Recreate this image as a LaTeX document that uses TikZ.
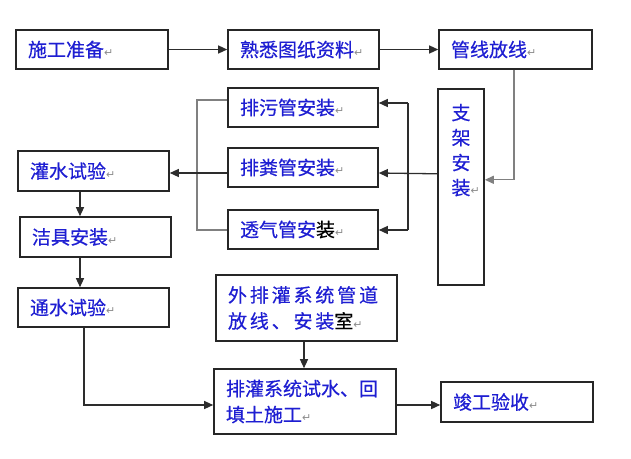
\documentclass[tikz,border=0pt]{standalone}
\usepackage{fontspec}
\usepackage{tikz}
\usetikzlibrary{arrows.meta,positioning,calc}
\usepackage{xcolor}
\newfontfamily\cnfont[FakeBold=0.4]{Noto Sans CJK SC}
\newfontfamily\cnwide[LetterSpace=15,FakeBold=0.4]{Noto Sans CJK SC}
\newfontfamily\markfont{DejaVu Sans}
\definecolor{textblue}{RGB}{30,30,210}
\definecolor{linegray}{RGB}{128,128,128}
\definecolor{darkline}{RGB}{45,45,45}
\newcommand{\pmark}{{\color{black!45}\markfont\fontsize{11}{11}\selectfont ↵}}
\tikzset{
  stepbox/.style={draw=black!85,line width=1.6pt,fill=white,align=left,inner xsep=12pt,inner ysep=0pt,
    minimum height=39pt,text=textblue,font=\cnfont\fontsize{19}{26}\selectfont},
  flow/.style={-{Triangle[length=9pt,width=8pt]},line width=1.3pt,draw=darkline},
  grayflow/.style={flow,draw=linegray},
  link/.style={line width=1.6pt,draw=linegray}
}
\begin{document}
\begin{tikzpicture}[x=1pt,y=-1pt]
  \useasboundingbox (0,0) rectangle (631,458);
  % top row
  \node[stepbox,text width=128pt] (prep) at (92,49.5) {施工准备\pmark};
  \node[stepbox,text width=127pt] (drawing) at (303.5,49.5) {熟悉图纸资料\pmark};
  \node[stepbox,text width=129pt] (layout) at (515.5,49.5) {管线放线\pmark};
  \draw[flow] (prep) -- (drawing);
  \draw[flow] (drawing) -- (layout);
  % supports and pipes
  \node[stepbox,minimum width=46pt,minimum height=196pt,inner xsep=0pt,align=center,anchor=north,
    font=\cnfont\fontsize{19}{25}\selectfont] (support) at (461,88)
    {\raisebox{0pt}[0pt][0pt]{\begin{tabular}[t]{@{}c@{}}\\[-12pt]支\\架\\安\\装\rlap{\pmark}\end{tabular}}\rule[-160pt]{0pt}{0pt}};
  \node[stepbox,text width=126pt] (sewage) at (303,107.5) {排污管安装\pmark};
  \node[stepbox,text width=126pt] (soil) at (303,167.5) {排粪管安装\pmark};
  \node[stepbox,text width=126pt] (vent) at (303,229.5) {透气管安{\color{black}装}\pmark};
  \draw[grayflow] (layout.south -| 514,0) |- ([yshift=7pt]support.east);
  \coordinate (rtop) at (408,103);
  \coordinate (rbot) at (408,230);
  \draw[flow] ([yshift=13pt]support.west) -- ([yshift=-5.5pt]soil.east);
  \draw[link,draw=darkline] (rtop) -- (rbot);
  \draw[flow] (rtop) -- (sewage.east |- rtop);
  \draw[flow] (rbot) -- (vent.east |- rbot);
  \coordinate (ltop) at (197,100);
  \coordinate (lbot) at (197,230);
  \draw[link] (sewage.west |- ltop) -- (ltop) -- (lbot) -- (vent.west |- lbot);
  % left column
  \node[stepbox,text width=127pt,minimum height=40pt] (fill) at (93.5,171) {灌水试验\pmark};
  \node[stepbox,text width=127pt,minimum height=40pt] (fixture) at (95.5,237) {洁具安装\pmark};
  \node[stepbox,text width=127pt] (flush) at (93.5,307.5) {通水试验\pmark};
  \draw[flow] ([yshift=-5.5pt]soil.west) -- ([yshift=-2pt]fill.east);
  \draw[flow] ([xshift=-13.5pt]fill.south) -- ([xshift=-15.5pt]fixture.north);
  \draw[flow] ([xshift=-15.5pt]fixture.south) -- ([xshift=-13.5pt]flush.north);
  % bottom
  \node[stepbox,text width=157pt,minimum height=66pt] (outer) at (306.5,308)
    {{\cnwide 外排灌系统管道}\\{\cnwide 放线、安装{\color{black}室}}\pmark};
  \node[stepbox,text width=158pt,minimum height=65pt] (test) at (305,401.5) {排灌系统试水、回\\填土施工\pmark};
  \node[stepbox,text width=128pt,minimum height=40pt] (accept) at (517,402) {竣工验收\pmark};
  \draw[flow] ([xshift=-2.5pt]outer.south) -- ([xshift=-1pt]test.north);
  \draw[flow] ([xshift=-9.5pt]flush.south) |- ([yshift=-3.5pt]test.west);
  \draw[flow] ([yshift=-3.5pt]test.east) -- ([yshift=-3pt]accept.west);
\end{tikzpicture}
\end{document}
